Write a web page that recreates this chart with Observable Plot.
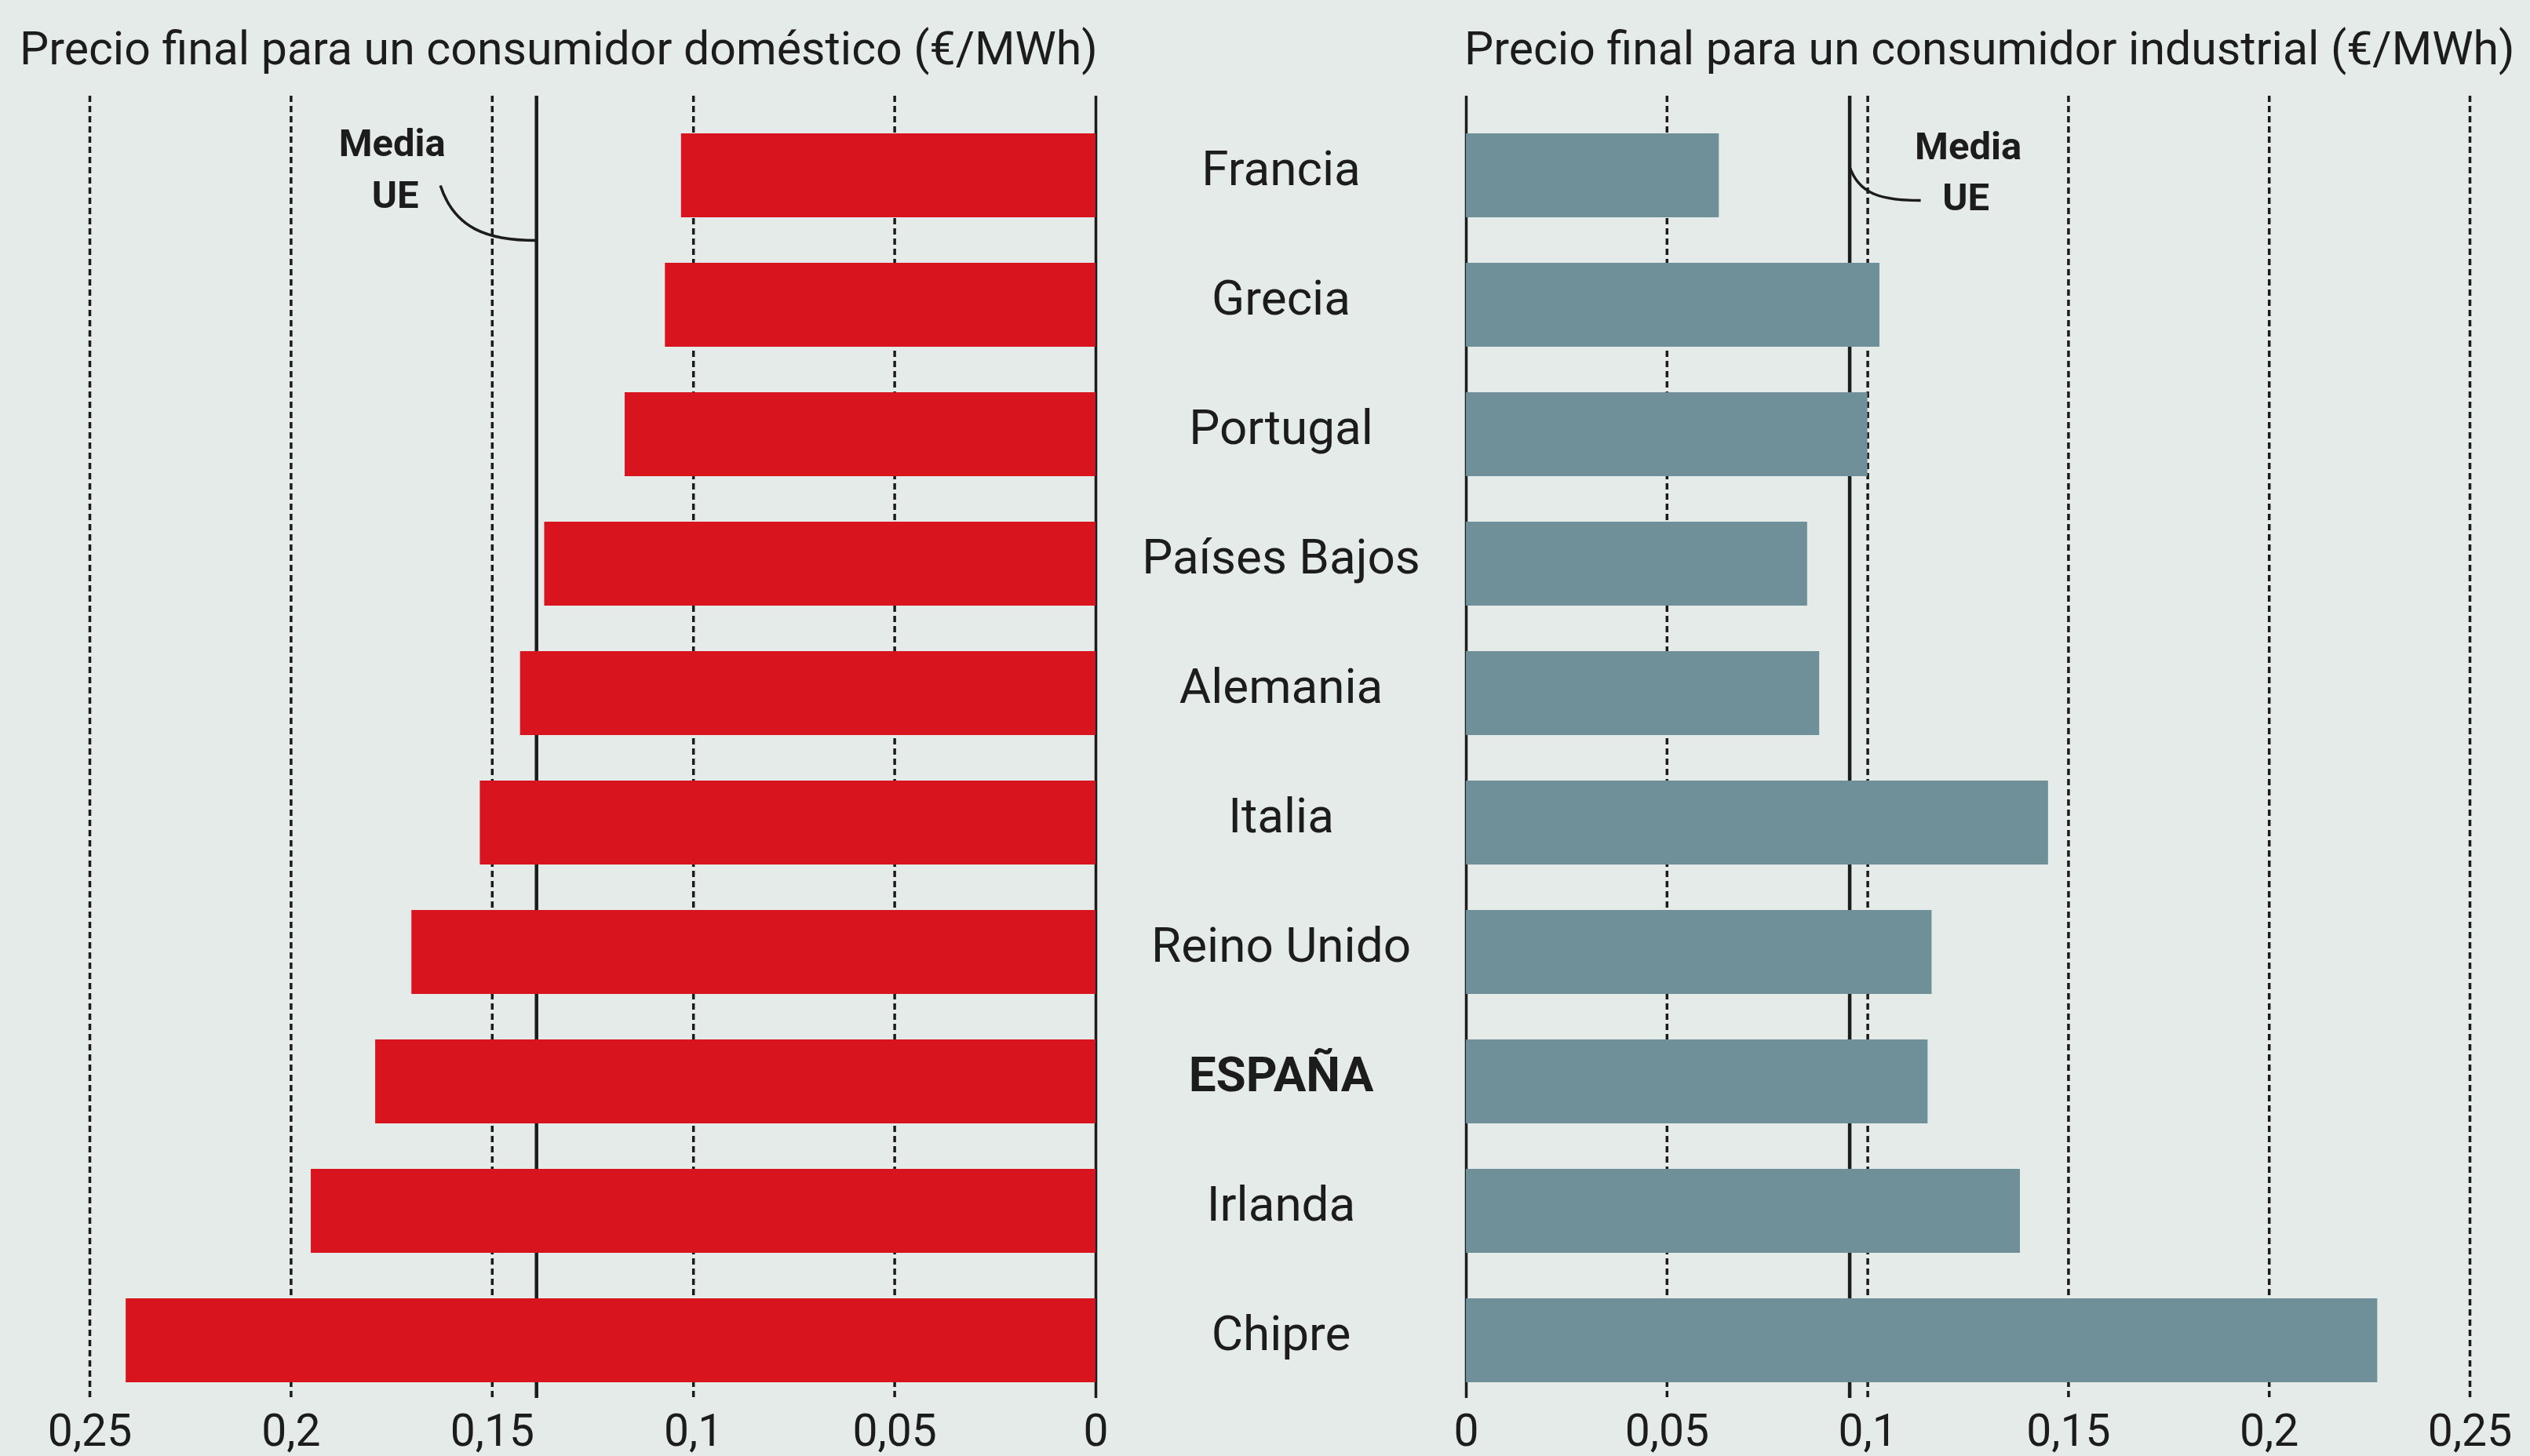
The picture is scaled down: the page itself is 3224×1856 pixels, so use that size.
<!DOCTYPE html>
<html>
<head>
<meta charset="utf-8">
<script src="https://cdn.jsdelivr.net/npm/d3@7"></script>
<script src="https://cdn.jsdelivr.net/npm/@observablehq/plot@0.6"></script>
<style>
  html, body { margin: 0; padding: 0; background: #e5ebe8; }
  #wrap { position: relative; width: 3224px; height: 1856px; background: #e5ebe8; overflow: hidden; font-family: Roboto, sans-serif; color: #1c1c1c; }
  .title { position: absolute; top: 29px; font-size: 59px; line-height: 66px; white-space: nowrap; }
  #left, #right { position: absolute; top: 0; }
</style>
</head>
<body>
<div id="wrap">
  <div class="title" id="t1" style="left:25px">Precio final para un consumidor doméstico (€/MWh)</div>
  <div class="title" id="t2" style="left:1866px">Precio final para un consumidor industrial (€/MWh)</div>
  <div id="left" style="left:0px"></div>
  <div id="right" style="left:1420px"></div>
</div>
<script>
const countries = ["Francia","Grecia","Portugal","Países Bajos","Alemania","Italia","Reino Unido","ESPAÑA","Irlanda","Chipre"];
const domestico = [0.103,0.107,0.117,0.137,0.143,0.153,0.170,0.179,0.195,0.241];
const industrial = [0.063,0.103,0.100,0.085,0.088,0.145,0.116,0.115,0.138,0.227];
const mediaDomestico = 0.139;
const mediaIndustrial = 0.0955;
const ticks = [0, 0.05, 0.1, 0.15, 0.2, 0.25];
const tickLabels = ["0", "0,05", "0,1", "0,15", "0,2", "0,25"];
const mediaLabel = ["Media", "UE"];

const dom = countries.map((c, i) => ({country: c, value: domestico[i]}));
const ind = countries.map((c, i) => ({country: c, value: industrial[i]}));
const fmt = d => tickLabels[ticks.findIndex(t => Math.abs(t - d) < 1e-9)];

const ink = "#1c1c1c";
const common = {
  height: 1856,
  marginTop: 122,
  marginBottom: 74,
  y: {domain: countries, paddingInner: 0.35, paddingOuter: 0.18, align: 0.71, axis: null},
  style: {background: "transparent", fontFamily: "Roboto, sans-serif", fontSize: "57px", color: ink, overflow: "visible"}
};

function curve(mean, side) {
  return (index, scales) => {
    const x0 = scales.x(mean);
    const bw = scales.y.bandwidth ? scales.y.bandwidth() : 0;
    const yc = scales.y("Francia") + bw / 2;
    let d;
    if (side === "left") {
      d = `M${x0 - 122},${yc + 13} C${x0 - 104},${yc + 68} ${x0 - 62},${yc + 83} ${x0},${yc + 83}`;
    } else {
      d = `M${x0},${yc - 12} C${x0 + 12},${yc + 24} ${x0 + 40},${yc + 32} ${x0 + 91},${yc + 32}`;
    }
    const p = d3.create("svg:path")
      .attr("d", d).attr("fill", "none").attr("stroke", ink).attr("stroke-width", 3.5);
    return p.node();
  };
}

const left = Plot.plot({
  ...common,
  width: 1420,
  marginLeft: 114,
  marginRight: 24,
  x: {domain: [0, 0.25], reverse: true, axis: null},
  marks: [
    Plot.ruleX(ticks.filter(d => d > 0), {stroke: ink, strokeWidth: 3.5, strokeDasharray: "8,5"}),
    Plot.ruleX([0], {stroke: ink, strokeWidth: 3.5}),
    Plot.ruleX([mediaDomestico], {stroke: ink, strokeWidth: 4.5}),
    Plot.barX(dom, {x: "value", y: "country", fill: "#d8151f"}),
    Plot.axisX({ticks, tickFormat: fmt, tickSize: 0, tickPadding: 20, label: null, fontSize: 57, color: ink}),
    Plot.text([mediaLabel[0]], {x: () => mediaDomestico, y: () => "Francia", text: d => d, dx: -184, dy: -41, fontWeight: "bold", fontSize: 49, fill: ink}),
    Plot.text([mediaLabel[1]], {x: () => mediaDomestico, y: () => "Francia", text: d => d, dx: -180, dy: 25, fontWeight: "bold", fontSize: 49, fill: ink}),
    curve(mediaDomestico, "left")
  ]
});

const right = Plot.plot({
  ...common,
  width: 1804,
  marginLeft: 448,
  marginRight: 77,
  x: {domain: [0, 0.25], axis: null},
  marks: [
    Plot.ruleX(ticks.filter(d => d > 0), {stroke: ink, strokeWidth: 3.5, strokeDasharray: "8,5"}),
    Plot.ruleX([0], {stroke: ink, strokeWidth: 3.5}),
    Plot.ruleX([mediaIndustrial], {stroke: ink, strokeWidth: 4.5}),
    Plot.barX(ind, {x: "value", y: "country", fill: "#6f8f99"}),
    Plot.axisX({ticks, tickFormat: fmt, tickSize: 0, tickPadding: 20, label: null, fontSize: 57, color: ink}),
    Plot.text(ind.filter(d => d.country !== "ESPAÑA"), {x: () => 0, y: "country", text: "country", dx: -236, dy: -8, textAnchor: "middle", fontSize: 62, fill: ink}),
    Plot.text(ind.filter(d => d.country === "ESPAÑA"), {x: () => 0, y: "country", text: "country", dx: -236, dy: -8, textAnchor: "middle", fontSize: 62, fontWeight: "bold", fill: ink}),
    Plot.text([mediaLabel[0]], {x: () => mediaIndustrial, y: () => "Francia", text: d => d, dx: 151, dy: -37, fontWeight: "bold", fontSize: 49, fill: ink}),
    Plot.text([mediaLabel[1]], {x: () => mediaIndustrial, y: () => "Francia", text: d => d, dx: 148, dy: 28, fontWeight: "bold", fontSize: 49, fill: ink}),
    curve(mediaIndustrial, "right")
  ]
});

document.getElementById("left").appendChild(left);
document.getElementById("right").appendChild(right);
</script>
</body>
</html>
